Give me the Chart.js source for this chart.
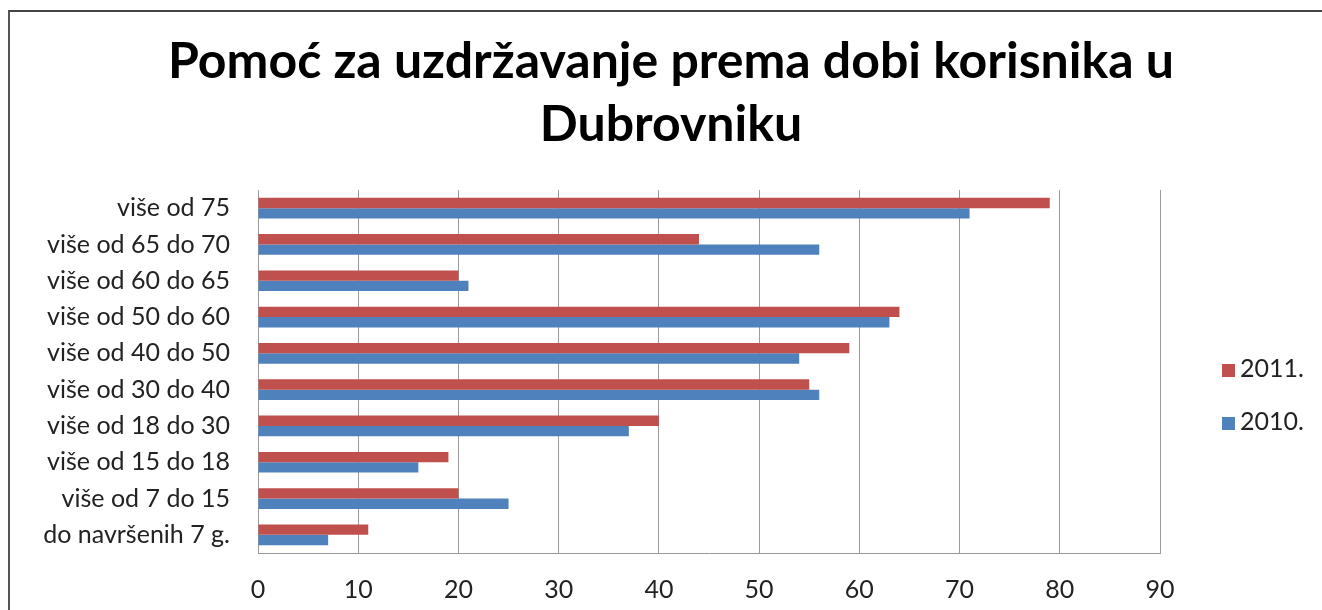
<!DOCTYPE html>
<html>
<head>
<meta charset="utf-8">
<script src="https://cdn.jsdelivr.net/npm/chart.js@4/dist/chart.umd.min.js"></script>
<style>
    body { margin: 0; background: #fff; }
    #wrap { position: relative; width: 1322px; height: 610px; overflow: hidden; }
    #frame { position: absolute; left: 8px; top: 10px; width: 1330px; height: 620px;
             border-left: 2px solid #555; border-top: 2px solid #444; }
    #chart { position: absolute; left: 0; top: 0; }
    .legend { position: absolute; left: 1222px; font: 25px Lato, sans-serif; color: #222; line-height: 30px; }
    .legend span { display: inline-block; width: 13px; height: 13px; margin-right: 5px; }
</style>
</head>
<body>
<div id="wrap">
    <div id="frame"></div>
    <canvas id="chart" width="1322" height="610"></canvas>
    <div class="legend" style="top:352px"><span style="background:#C0504D"></span>2011.</div>
    <div class="legend" style="top:405px"><span style="background:#4F81BD"></span>2010.</div>
</div>
<script>
const categories = [
    'više od 75',
    'više od 65 do 70',
    'više od 60 do 65',
    'više od 50 do 60',
    'više od 40 do 50',
    'više od 30 do 40',
    'više od 18 do 30',
    'više od 15 do 18',
    'više od 7 do 15',
    'do navršenih 7 g.'
];
const values2011 = [79, 44, 20, 64, 59, 55, 40, 19, 20, 11];
const values2010 = [71, 56, 21, 63, 54, 56, 37, 16, 25, 7];
const xTicks = [0, 10, 20, 30, 40, 50, 60, 70, 80, 90];

const titleLines = ['Pomoć za uzdržavanje prema dobi korisnika u', 'Dubrovniku'];

// reserves room on the right for the legend without shifting the title
const legendSpace = {
    id: 'legendSpace',
    beforeInit(chart) {
        Chart.layouts.addBox(chart, {
            position: 'right',
            weight: 10,
            fullSize: false,
            options: {},
            isHorizontal() { return false; },
            update(maxWidth, maxHeight) { this.width = 162; this.height = maxHeight; },
            draw() {}
        });
    }
};

document.addEventListener('DOMContentLoaded', () => {
    const ctx = document.getElementById('chart');

    new Chart(ctx, {
        type: 'bar',
        data: {
            labels: categories,
            datasets: [
                { label: '2011.', data: values2011, backgroundColor: '#C0504D' },
                { label: '2010.', data: values2010, backgroundColor: '#4F81BD' }
            ]
        },
        plugins: [legendSpace],
        options: {
            indexAxis: 'y',
            responsive: false,
            animation: false,
            layout: { padding: { left: 20, right: 0, top: 0, bottom: 0 } },
            datasets: { bar: { categoryPercentage: 0.57, barPercentage: 1.0 } },
            scales: {
                x: {
                    min: xTicks[0],
                    max: xTicks[xTicks.length - 1],
                    afterBuildTicks: scale => { scale.ticks = xTicks.map(v => ({ value: v })); },
                    afterFit: scale => { scale.height = 57; },
                    grid: { color: '#9a9a9a', lineWidth: 1, drawTicks: false },
                    border: { color: '#9a9a9a' },
                    ticks: { padding: 22, color: '#222', font: { family: 'Lato', size: 25 } }
                },
                y: {
                    afterFit: scale => { scale.width = 238; },
                    grid: { display: false, drawTicks: false },
                    border: { color: '#9a9a9a' },
                    ticks: { padding: 28, color: '#222', font: { family: 'Lato', size: 25 } }
                }
            },
            plugins: {
                legend: { display: false },
                tooltip: { enabled: false },
                title: {
                    display: true,
                    text: titleLines,
                    color: '#000',
                    font: { family: 'Lato', size: 50, weight: 'bold', lineHeight: 1.26 },
                    padding: { top: 30, bottom: 34 }
                }
            }
        }
    });
});
</script>
</body>
</html>
